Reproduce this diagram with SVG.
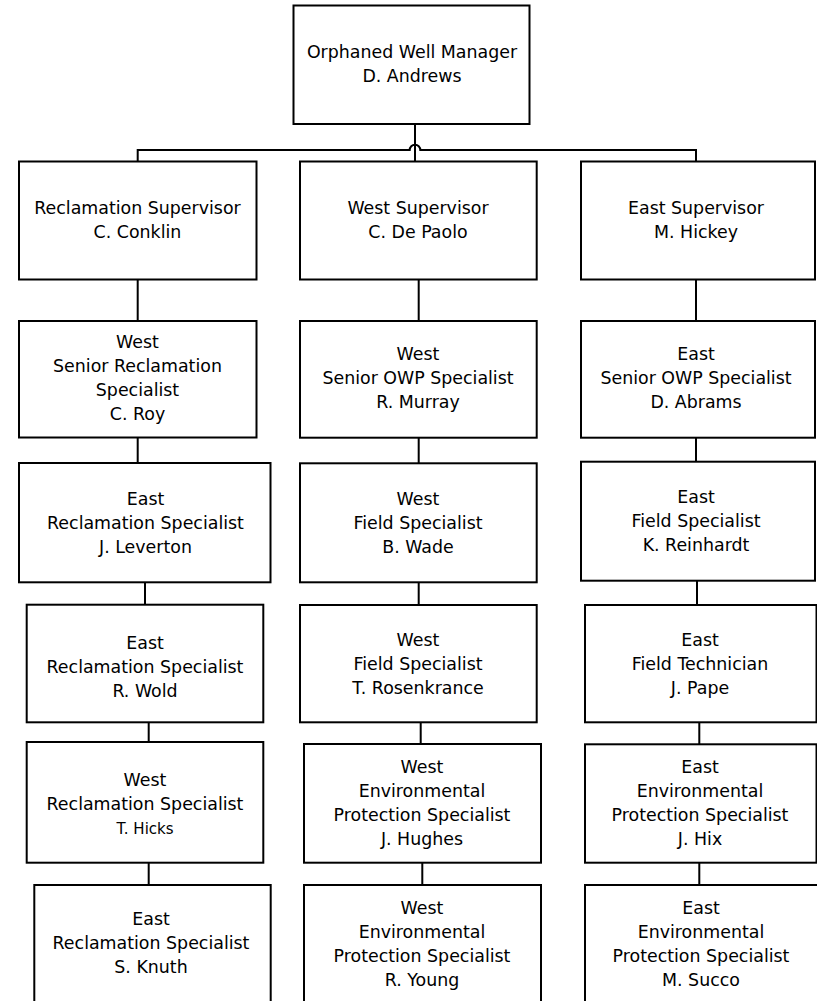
<svg xmlns="http://www.w3.org/2000/svg" width="817" height="1001" viewBox="0 0 817 1001">
<style>
.box{fill:#fff;stroke:#000;stroke-width:2}
.con{fill:none;stroke:#000;stroke-width:2}
text{font-family:"DejaVu Sans",Verdana,sans-serif;font-size:17.4px;fill:#000;text-anchor:middle}
.sm{font-size:15px}
</style>
<rect width="817" height="1001" fill="#fff"/>
<g id="connectors">
<path class="con" d="M415,124 V161.7"/>
<path class="con" d="M137.7,161.7 V150 H409.7 A5.3,5.3 0 0 1 420.3,150 H696 V161.7"/>
<path class="con" d="M137.7,279.3 V321 M137.7,437.3 V462.7 M145,582.3 V604.7 M148.7,722.3 V742 M148.7,862.7 V885"/>
<path class="con" d="M418.7,279.3 V321 M418.7,437.7 V463.3 M418.7,582.3 V605 M420.7,722.3 V744 M422.3,862.7 V885"/>
<path class="con" d="M696,279.3 V321 M696,437.7 V461.7 M697,580.7 V605 M699.3,722.3 V744.3 M699.3,862.7 V885"/>
</g>
<g id="n-andrews"><rect class="box" x="293.5" y="5.5" width="236" height="118.5"/>
<text x="412" y="58">Orphaned Well Manager<tspan x="412" dy="24">D. Andrews</tspan></text></g>

<g id="n-conklin"><rect class="box" x="19" y="161.5" width="237.5" height="118"/>
<text x="137.5" y="214">Reclamation Supervisor<tspan x="137.5" dy="24">C. Conklin</tspan></text></g>
<g id="n-depaolo"><rect class="box" x="300" y="161.5" width="236.7" height="118"/>
<text x="418" y="214">West Supervisor<tspan x="418" dy="24">C. De Paolo</tspan></text></g>
<g id="n-hickey"><rect class="box" x="581" y="161.5" width="234" height="118"/>
<text x="696" y="214">East Supervisor<tspan x="696" dy="24">M. Hickey</tspan></text></g>

<g id="n-roy"><rect class="box" x="19" y="321" width="237.5" height="116.5"/>
<text x="137.5" y="348">West<tspan x="137.5" dy="24">Senior Reclamation</tspan><tspan x="137.5" dy="24">Specialist</tspan><tspan x="137.5" dy="24">C. Roy</tspan></text></g>
<g id="n-murray"><rect class="box" x="300" y="321" width="236.7" height="116.7"/>
<text x="418" y="360">West<tspan x="418" dy="24">Senior OWP Specialist</tspan><tspan x="418" dy="24">R. Murray</tspan></text></g>
<g id="n-abrams"><rect class="box" x="581" y="321" width="234" height="116.7"/>
<text x="696" y="360">East<tspan x="696" dy="24">Senior OWP Specialist</tspan><tspan x="696" dy="24">D. Abrams</tspan></text></g>

<g id="n-leverton"><rect class="box" x="19" y="463" width="251.5" height="119.3"/>
<text x="145.5" y="504.5">East<tspan x="145.5" dy="24">Reclamation Specialist</tspan><tspan x="145.5" dy="24">J. Leverton</tspan></text></g>
<g id="n-wade"><rect class="box" x="300" y="463.3" width="236.7" height="119"/>
<text x="418" y="505">West<tspan x="418" dy="24">Field Specialist</tspan><tspan x="418" dy="24">B. Wade</tspan></text></g>
<g id="n-reinhardt"><rect class="box" x="581" y="461.7" width="234" height="119"/>
<text x="696" y="502.5">East<tspan x="696" dy="24">Field Specialist</tspan><tspan x="696" dy="24">K. Reinhardt</tspan></text></g>

<g id="n-wold"><rect class="box" x="26.7" y="604.7" width="236.6" height="117.6"/>
<text x="145" y="649">East<tspan x="145" dy="24">Reclamation Specialist</tspan><tspan x="145" dy="24">R. Wold</tspan></text></g>
<g id="n-rosenkrance"><rect class="box" x="300" y="605" width="236.7" height="117.3"/>
<text x="418" y="646">West<tspan x="418" dy="24">Field Specialist</tspan><tspan x="418" dy="24">T. Rosenkrance</tspan></text></g>
<g id="n-pape"><rect class="box" x="585" y="605" width="231.5" height="117.3"/>
<text x="700" y="646">East<tspan x="700" dy="24">Field Technician</tspan><tspan x="700" dy="24">J. Pape</tspan></text></g>

<g id="n-hicks"><rect class="box" x="26.7" y="742" width="236.6" height="120.7"/>
<text x="145" y="785.5">West<tspan x="145" dy="24">Reclamation Specialist</tspan><tspan x="145" dy="24" class="sm">T. Hicks</tspan></text></g>
<g id="n-hughes"><rect class="box" x="304" y="744" width="237" height="118.7"/>
<text x="422" y="773">West<tspan x="422" dy="24">Environmental</tspan><tspan x="422" dy="24">Protection Specialist</tspan><tspan x="422" dy="24">J. Hughes</tspan></text></g>
<g id="n-hix"><rect class="box" x="585" y="744.3" width="231.5" height="118.4"/>
<text x="700" y="773">East<tspan x="700" dy="24">Environmental</tspan><tspan x="700" dy="24">Protection Specialist</tspan><tspan x="700" dy="24">J. Hix</tspan></text></g>

<g id="n-knuth"><rect class="box" x="34.3" y="885" width="236.4" height="117"/>
<text x="151" y="925">East<tspan x="151" dy="24">Reclamation Specialist</tspan><tspan x="151" dy="24">S. Knuth</tspan></text></g>
<g id="n-young"><rect class="box" x="304" y="885" width="237" height="117"/>
<text x="422" y="913.5">West<tspan x="422" dy="24">Environmental</tspan><tspan x="422" dy="24">Protection Specialist</tspan><tspan x="422" dy="24">R. Young</tspan></text></g>
<g id="n-succo"><rect class="box" x="585" y="885" width="237" height="117"/>
<text x="701" y="914">East<tspan x="701" dy="24">Environmental</tspan><tspan x="701" dy="24">Protection Specialist</tspan><tspan x="701" dy="24">M. Succo</tspan></text></g>
</svg>
